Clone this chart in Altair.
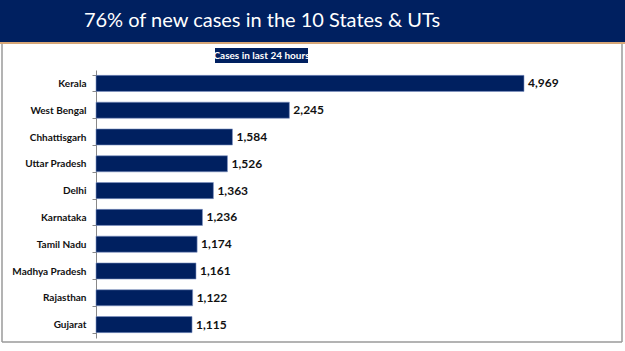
import altair as alt
import pandas as pd

states = ["Kerala", "West Bengal", "Chhattisgarh", "Uttar Pradesh", "Delhi",
          "Karnataka", "Tamil Nadu", "Madhya Pradesh", "Rajasthan", "Gujarat"]
cases = [4969, 2245, 1584, 1526, 1363, 1236, 1174, 1161, 1122, 1115]
title_text = "76% of new cases in the 10 States & UTs"
subtitle_text = "Cases in last 24 hours"

NAVY = "#002060"
FONT = "Lato"

df = pd.DataFrame({"state": states, "cases": cases})

W, H = 520, 268
LEFT, TOP = 96, 70

one = alt.Data(values=[{"a": 1}])

bars = alt.Chart(df).mark_bar(color=NAVY, stroke="#7f93c4", strokeWidth=0.6).encode(
    y=alt.Y("state:N", sort=states,
            scale=alt.Scale(paddingInner=0.4, paddingOuter=0.2),
            axis=alt.Axis(title=None, tickBand="extent", domainColor="#888888",
                          tickColor="#888888", tickSize=4, labelPadding=6,
                          labelFont=FONT, labelFontWeight="bold", labelFontSize=10,
                          labelColor="#111111")),
    x=alt.X("cases:Q", scale=alt.Scale(domain=[0, 6037], nice=False), axis=None),
)

labels = alt.Chart(df).mark_text(align="left", baseline="middle", dx=4, font=FONT,
                                 fontWeight="bold", fontSize=12, color="#111111").encode(
    y=alt.Y("state:N", sort=states),
    x="cases:Q",
    text=alt.Text("cases:Q", format=","),
)

header = alt.Chart(one).mark_rect(color=NAVY).encode(
    x=alt.value(-LEFT), x2=alt.value(625 - LEFT), y=alt.value(-TOP), y2=alt.value(42 - TOP))
orange = alt.Chart(one).mark_rule(color="#c8894a", strokeWidth=1.5).encode(
    x=alt.value(-LEFT), x2=alt.value(625 - LEFT), y=alt.value(43 - TOP))
frame_l = alt.Chart(one).mark_rule(color="#9a9a9a", strokeWidth=1.5).encode(
    x=alt.value(2 - LEFT), y=alt.value(44 - TOP), y2=alt.value(342 - TOP))
frame_r = alt.Chart(one).mark_rule(color="#9a9a9a", strokeWidth=1.5).encode(
    x=alt.value(622 - LEFT), y=alt.value(44 - TOP), y2=alt.value(342 - TOP))
frame_b = alt.Chart(one).mark_rule(color="#9a9a9a", strokeWidth=1.5).encode(
    x=alt.value(2 - LEFT), x2=alt.value(622 - LEFT), y=alt.value(342 - TOP))

title = alt.Chart(one).mark_text(text=title_text, font=FONT, fontSize=20,
                                 color="white", align="center", baseline="middle").encode(
    x=alt.value(262 - LEFT), y=alt.value(21 - TOP))

sub_box = alt.Chart(one).mark_rect(color=NAVY).encode(
    x=alt.value(215 - LEFT), x2=alt.value(308 - LEFT), y=alt.value(48 - TOP), y2=alt.value(63 - TOP))
sub_text = alt.Chart(one).mark_text(text=subtitle_text, font=FONT, fontSize=10,
                                    fontWeight="bold", color="white",
                                    align="center", baseline="middle").encode(
    x=alt.value(261.5 - LEFT), y=alt.value(55.5 - TOP))

chart = alt.layer(header, orange, frame_l, frame_r, frame_b, title, sub_box, sub_text,
                  bars, labels).properties(
    width=W, height=H,
    autosize=alt.AutoSizeParams(type="none"),
    padding={"left": LEFT, "top": TOP, "right": 625 - LEFT - W, "bottom": 351 - TOP - H},
    background="white",
).configure_view(stroke=None)

chart.save("out.html", embed_options={"renderer": "svg", "actions": False})
